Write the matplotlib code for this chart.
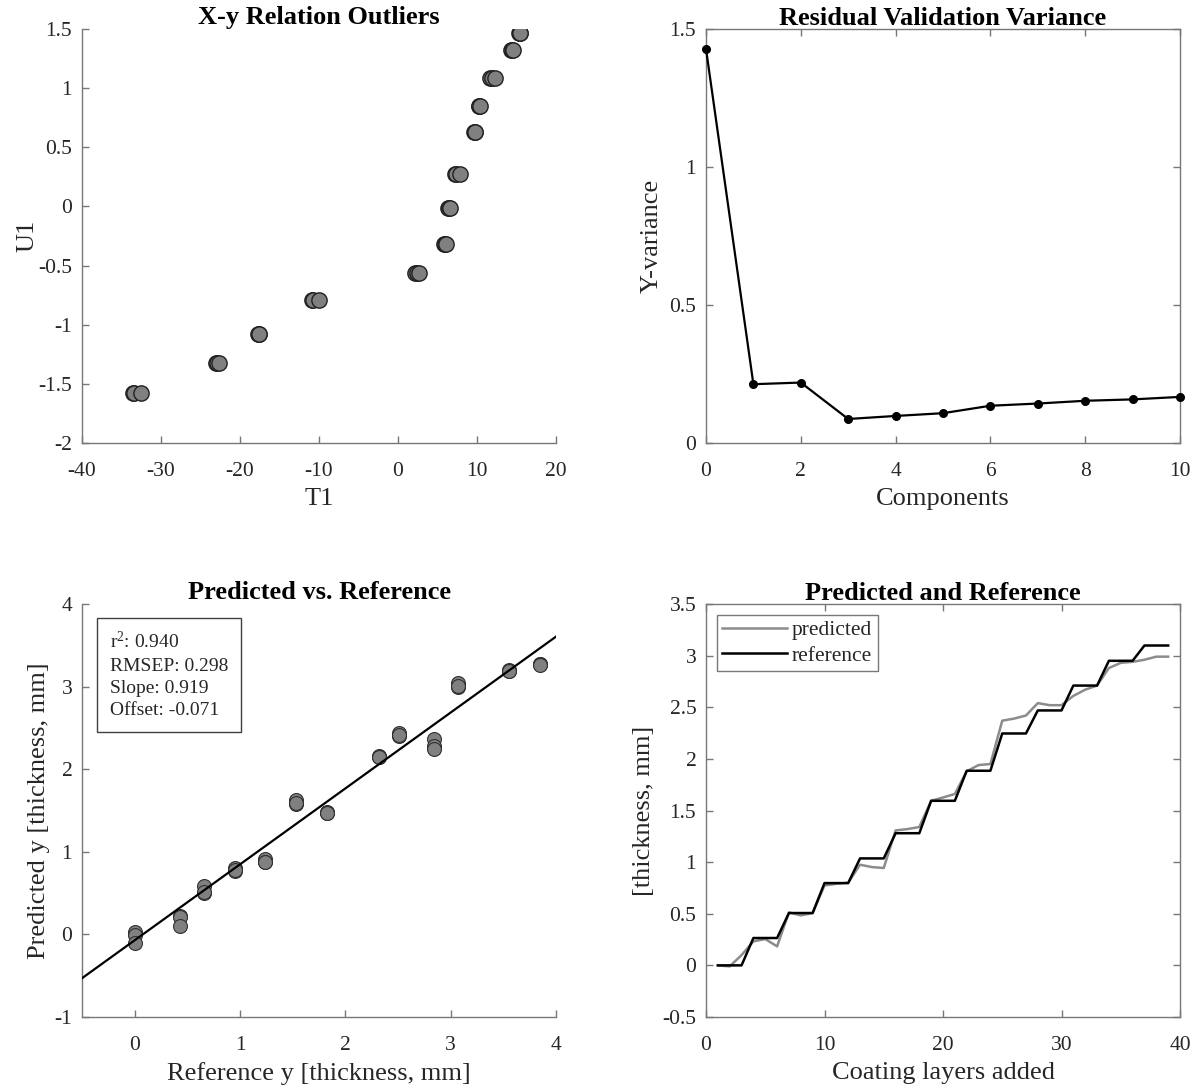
import matplotlib
matplotlib.use("Agg")
import matplotlib.pyplot as plt
from matplotlib.ticker import FuncFormatter

# ---------------- data ----------------
# X-y relation outliers (scores)
t1_scores = [-33.6, -33.4, -32.5, -23.1, -22.9, -22.7, -17.7, -17.6, -17.6,
             -10.9, -10.8, -10.0, 2.1, 2.4, 2.6, 5.8, 5.9, 6.1, 6.3, 6.5, 6.6,
             7.2, 7.4, 7.8, 9.6, 9.7, 9.8, 10.2, 10.3, 10.4, 11.6, 11.9, 12.3,
             14.3, 14.4, 14.6, 15.3, 15.4, 15.5]
u1_scores = [-1.574, -1.574, -1.574, -1.32, -1.32, -1.32, -1.082, -1.082, -1.082,
             -0.794, -0.794, -0.794, -0.56, -0.56, -0.56, -0.32, -0.32, -0.32,
             -0.01, -0.01, -0.01, 0.274, 0.274, 0.274, 0.627, 0.627, 0.627,
             0.847, 0.847, 0.847, 1.085, 1.085, 1.085, 1.325, 1.325, 1.325,
             1.466, 1.466, 1.466]

# Residual validation variance
components = [0, 1, 2, 3, 4, 5, 6, 7, 8, 9, 10]
y_variance = [1.428, 0.213, 0.219, 0.087, 0.098, 0.108, 0.135, 0.143, 0.153, 0.158, 0.167]

# Predicted vs reference
ref_y = [0, 0, 0, 0.43, 0.43, 0.43, 0.66, 0.66, 0.66, 0.95, 0.95, 0.95,
         1.24, 1.24, 1.24, 1.53, 1.53, 1.53, 1.83, 1.83, 1.83, 2.32, 2.32, 2.32,
         2.51, 2.51, 2.51, 2.84, 2.84, 2.84, 3.07, 3.07, 3.07, 3.55, 3.55, 3.55,
         3.85, 3.85, 3.85]
pred_y = [0.03, -0.01, -0.11, 0.22, 0.21, 0.10, 0.58, 0.50, 0.51, 0.80, 0.77, 0.78,
          0.91, 0.88, 0.88, 1.63, 1.58, 1.59, 1.48, 1.47, 1.47, 2.16, 2.15, 2.15,
          2.44, 2.40, 2.41, 2.37, 2.28, 2.25, 3.04, 3.00, 3.01, 3.20, 3.19, 3.19,
          3.27, 3.27, 3.26]
stats_r2 = 0.940
stats_rmsep = 0.298
stats_slope = 0.919
stats_offset = -0.071

# Predicted and reference vs layers
layers = list(range(1, 40))
predicted = [0, -0.01, 0.10, 0.232, 0.255, 0.184, 0.513, 0.484, 0.507, 0.774, 0.79, 0.80,
             0.975, 0.952, 0.943, 1.307, 1.32, 1.34, 1.594, 1.626, 1.66, 1.88, 1.94, 1.95,
             2.37, 2.39, 2.42, 2.54, 2.52, 2.52, 2.61, 2.67, 2.71, 2.88, 2.93, 2.94,
             2.96, 2.99, 2.99]
reference = [0, 0, 0, 0.265, 0.265, 0.265, 0.507, 0.507, 0.507, 0.797, 0.797, 0.797,
             1.036, 1.036, 1.036, 1.28, 1.28, 1.28, 1.594, 1.594, 1.594, 1.885, 1.885, 1.885,
             2.246, 2.246, 2.246, 2.469, 2.469, 2.469, 2.71, 2.71, 2.71, 2.95, 2.95, 2.95,
             3.098, 3.098, 3.098]

# ---------------- style ----------------
plt.rcParams['font.family'] = ['Liberation Serif', 'DejaVu Serif']
plt.rcParams['mathtext.fontset'] = 'custom'
plt.rcParams['mathtext.rm'] = 'Liberation Serif'
plt.rcParams['mathtext.it'] = 'Liberation Serif:italic'
plt.rcParams['axes.unicode_minus'] = False

TXT = '#262626'
SPINE = '#777777'
TICK_FS = 15.5
LAB_FS = 19
TITLE_FS = 19

fmt = FuncFormatter(lambda v, p: ('%g' % round(v, 6)))

fig = plt.figure(figsize=(11.9, 10.88), dpi=100)
W, H = 1190.0, 1088.0

def make_ax(l, t, r, b):
    return fig.add_axes([l / W, 1 - b / H, (r - l) / W, (b - t) / H])

def style(ax, box):
    for s in ['left', 'bottom', 'top', 'right']:
        ax.spines[s].set_color(SPINE)
        ax.spines[s].set_linewidth(1.0)
    if not box:
        ax.spines['top'].set_visible(False)
        ax.spines['right'].set_visible(False)
    ax.tick_params(direction='in', length=5, width=1.0, color=SPINE,
                   labelsize=TICK_FS, labelcolor=TXT,
                   top=box, right=box)
    ax.tick_params(axis='x', pad=14)
    ax.tick_params(axis='y', pad=7)
    ax.xaxis.set_major_formatter(fmt)
    ax.yaxis.set_major_formatter(fmt)

# ---- top-left ----
ax1 = make_ax(82, 29, 556, 443)
ax1.scatter(t1_scores, u1_scores, s=11**2, facecolor='#808080', edgecolor='#202020',
            linewidths=1.0, zorder=3)
ax1.set_xlim(-40, 20)
ax1.set_ylim(-2, 1.5)
ax1.set_xticks([-40, -30, -20, -10, 0, 10, 20])
ax1.set_yticks([-2, -1.5, -1, -0.5, 0, 0.5, 1, 1.5])
style(ax1, False)
ax1.set_xlabel('T1', fontsize=LAB_FS, color=TXT, labelpad=5)
ax1.set_ylabel('U1', fontsize=LAB_FS, color=TXT, labelpad=0)
ax1.set_title('X-y Relation Outliers', fontsize=TITLE_FS, fontweight='bold', color='black', pad=3)

# ---- top-right ----
ax2 = make_ax(706, 29, 1180, 443)
ax2.plot(components, y_variance, color='black', linewidth=1.6, marker='o',
         markersize=5.5, clip_on=False, zorder=3)
ax2.set_xlim(0, 10)
ax2.set_ylim(0, 1.5)
ax2.set_xticks([0, 2, 4, 6, 8, 10])
ax2.set_yticks([0, 0.5, 1, 1.5])
style(ax2, True)
ax2.set_xlabel('Components', fontsize=LAB_FS, color=TXT, labelpad=5)
ax2.set_ylabel('Y-variance', fontsize=LAB_FS, color=TXT, labelpad=5)
ax2.set_title('Residual Validation Variance', fontsize=TITLE_FS, fontweight='bold', color='black', pad=3)

# ---- bottom-left ----
ax3 = make_ax(82, 604, 556, 1017)
ax3.scatter(ref_y, pred_y, s=10**2, facecolor='#808080', edgecolor='#303030',
            linewidths=0.8, zorder=3)
xl = [-0.5, 4.0]
ax3.plot(xl, [stats_slope * v + stats_offset for v in xl], color='black', linewidth=1.6, zorder=4)
ax3.set_xlim(-0.5, 4)
ax3.set_ylim(-1, 4)
ax3.set_xticks([0, 1, 2, 3, 4])
ax3.set_yticks([-1, 0, 1, 2, 3, 4])
style(ax3, False)
ax3.set_xlabel('Reference y [thickness, mm]', fontsize=LAB_FS, color=TXT, labelpad=5)
ax3.set_ylabel('Predicted y [thickness, mm]', fontsize=LAB_FS, color=TXT, labelpad=3)
ax3.set_title('Predicted vs. Reference', fontsize=TITLE_FS, fontweight='bold', color='black', pad=3)
stats_txt = ('r$^{2}$: %.3f\nRMSEP: %.3f\nSlope: %.3f\nOffset: %.3f'
             % (stats_r2, stats_rmsep, stats_slope, stats_offset))
ax3.text(0.059, 0.935, stats_txt, transform=ax3.transAxes, fontsize=14, color=TXT,
         va='top', ha='left', linespacing=1.42, zorder=5,
         bbox=dict(boxstyle='square,pad=0.65', facecolor='white', edgecolor='#404040', linewidth=1.0))

# ---- bottom-right ----
ax4 = make_ax(706, 604, 1180, 1017)
ax4.plot(layers, predicted, color='#8c8c8c', linewidth=1.8, label='predicted')
ax4.plot(layers, reference, color='black', linewidth=1.8, label='reference')
ax4.set_xlim(0, 40)
ax4.set_ylim(-0.5, 3.5)
ax4.set_xticks([0, 10, 20, 30, 40])
ax4.set_yticks([-0.5, 0, 0.5, 1, 1.5, 2, 2.5, 3, 3.5])
style(ax4, True)
ax4.set_xlabel('Coating layers added', fontsize=LAB_FS, color=TXT, labelpad=5)
ax4.set_ylabel('[thickness, mm]', fontsize=LAB_FS, color=TXT, labelpad=5)
ax4.set_title('Predicted and Reference', fontsize=TITLE_FS, fontweight='bold', color='black', pad=3)
leg = ax4.legend(loc='upper left', fontsize=15.5, frameon=True, fancybox=False,
                 edgecolor='#777777', framealpha=1, handlelength=3.0, handletextpad=0.25,
                 borderpad=0.25, labelspacing=0.25, borderaxespad=0.5)
leg.get_frame().set_linewidth(1.0)
for t in leg.get_texts():
    t.set_color(TXT)

fig.savefig('out.png', dpi=100)
